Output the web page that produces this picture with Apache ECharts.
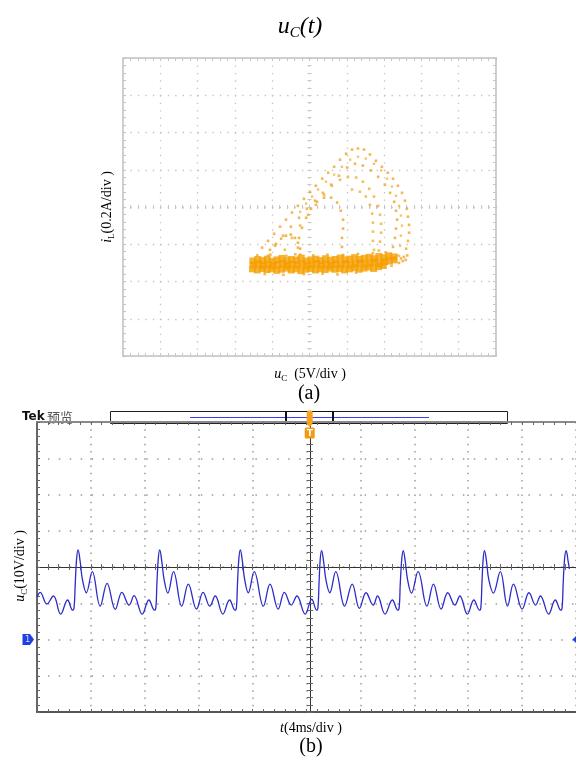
<!DOCTYPE html>
<html><head><meta charset="utf-8">
<script src="https://cdn.jsdelivr.net/npm/echarts@6.0.0/dist/echarts.min.js"></script>
<style>html,body{margin:0;padding:0;background:#fff}#c{width:576px;height:758px}</style>
</head><body><div id="c"></div>
<script>
// ---------- (a) phase portrait, in divisions (x: 5V/div, y: 0.2A/div) ----------
const bandRow1 = [[-1.52,-1.45],[-1.39,-1.41],[-1.26,-1.44],[-1.13,-1.40],[-1.00,-1.46],[-0.87,-1.42],[-0.74,-1.38],[-0.61,-1.44],[-0.48,-1.41],[-0.35,-1.43],[-0.22,-1.37],[-0.09,-1.45],[0.04,-1.42],[0.17,-1.40],[0.30,-1.44],[0.43,-1.39],[0.56,-1.43],[0.69,-1.41],[0.82,-1.37],[0.95,-1.42],[1.08,-1.40],[1.21,-1.36],[1.34,-1.41],[1.47,-1.38],[1.60,-1.35],[1.73,-1.39],[1.86,-1.33],[1.99,-1.36],[2.12,-1.31],[2.25,-1.34]];
const bandRow2 = [[-1.50,-1.56],[-1.37,-1.53],[-1.24,-1.57],[-1.11,-1.54],[-0.98,-1.58],[-0.85,-1.55],[-0.72,-1.52],[-0.59,-1.57],[-0.46,-1.54],[-0.33,-1.56],[-0.20,-1.53],[-0.07,-1.58],[0.06,-1.55],[0.19,-1.52],[0.32,-1.56],[0.45,-1.54],[0.58,-1.57],[0.71,-1.53],[0.84,-1.55],[0.97,-1.52],[1.10,-1.56],[1.23,-1.53],[1.36,-1.50],[1.49,-1.54],[1.62,-1.51],[1.75,-1.48],[1.88,-1.52],[2.01,-1.47],[2.14,-1.45],[2.27,-1.42]];
const bandRow3 = [[-1.53,-1.66],[-1.40,-1.69],[-1.27,-1.65],[-1.14,-1.68],[-1.01,-1.66],[-0.88,-1.70],[-0.75,-1.67],[-0.62,-1.64],[-0.49,-1.69],[-0.36,-1.66],[-0.23,-1.71],[-0.10,-1.67],[0.03,-1.65],[0.16,-1.69],[0.29,-1.66],[0.42,-1.68],[0.55,-1.64],[0.68,-1.67],[0.81,-1.65],[0.94,-1.69],[1.07,-1.66],[1.20,-1.63],[1.33,-1.67],[1.46,-1.64],[1.59,-1.61],[1.72,-1.65],[1.85,-1.60],[1.98,-1.57]];
const bandEdge = [[-1.40,-1.30],[-1.05,-1.28],[-0.62,-1.31],[-0.38,-1.27],[0.10,-1.30],[0.48,-1.28],[0.90,-1.29],[1.30,-1.26],[1.70,-1.24],[2.05,-1.22],[2.35,-1.30],[2.45,-1.38],[2.50,-1.45],[2.40,-1.50],[2.20,-1.58],[-1.20,-1.80],[-0.70,-1.82],[-0.15,-1.80],[0.35,-1.79],[0.75,-1.81],[1.25,-1.76],[2.58,-1.42],[2.62,-1.30]];
const arc1 = [[-1.27,-1.09],[-1.11,-0.91],[-0.95,-0.72],[-0.79,-0.53],[-0.63,-0.34],[-0.47,-0.15],[-0.31,0.03],[-0.15,0.22],[0.01,0.41],[0.17,0.57],[0.34,0.76],[0.50,0.92],[0.66,1.08],[0.82,1.27],[0.98,1.43],[1.14,1.54],[1.30,1.57],[1.46,1.54],[1.62,1.41],[1.78,1.24],[1.94,1.08],[2.10,0.92],[2.24,0.76],[2.37,0.57],[2.48,0.38],[2.56,0.17],[2.61,-0.05],[2.64,-0.26],[2.67,-0.48],[2.67,-0.69],[2.64,-0.91],[2.59,-1.12],[2.53,-1.34]];
const arc2 = [[-1.11,-1.31],[-0.92,-1.04],[-0.71,-0.77],[-0.50,-0.53],[-0.28,-0.29],[-0.07,-0.05],[0.15,0.17],[0.36,0.38],[0.58,0.60],[0.79,0.84],[1.01,1.06],[1.22,1.16],[1.43,1.11],[1.65,0.98],[1.84,0.81],[2.02,0.60],[2.16,0.38],[2.27,0.14],[2.32,-0.10],[2.35,-0.34],[2.32,-0.58],[2.29,-0.83],[2.24,-1.07],[2.18,-1.31]];
const arc3 = [[-0.66,-1.15],[-0.47,-0.83],[-0.25,-0.50],[-0.04,-0.21],[0.17,0.06],[0.39,0.33],[0.60,0.57],[0.82,0.73],[1.03,0.81],[1.25,0.79],[1.43,0.68],[1.60,0.49],[1.73,0.28],[1.84,0.03],[1.89,-0.21],[1.92,-0.45],[1.92,-0.69],[1.89,-0.93],[1.86,-1.17]];
const arc4 = [[-0.31,-1.36],[-0.31,-1.09],[-0.28,-0.83],[-0.20,-0.56],[-0.09,-0.29],[0.04,-0.05],[0.20,0.14],[0.39,0.25],[0.58,0.25],[0.74,0.12],[0.84,-0.10],[0.90,-0.34],[0.90,-0.58],[0.87,-0.83],[0.87,-1.07],[0.90,-1.31]];
const arc5 = [[1.14,0.47],[1.35,0.41],[1.51,0.28],[1.62,0.06],[1.68,-0.18],[1.70,-0.42],[1.70,-0.66],[1.70,-0.91],[1.73,-1.15]];
const arc6 = [[-1.06,-1.15],[-0.90,-0.99],[-0.76,-0.85],[-0.63,-0.77],[-0.50,-0.74],[-0.39,-0.83],[-0.31,-0.96],[-0.25,-1.12],[-0.25,-1.28]];
const arc7 = [[-0.25,-0.13],[-0.09,0.09],[0.07,0.28],[0.23,0.47],[0.44,0.68],[0.66,0.87],[0.87,1.08],[1.09,1.27],[1.30,1.35],[1.51,1.30],[1.73,1.16],[1.92,0.98],[2.08,0.76],[2.21,0.55],[2.32,0.30],[2.40,0.03],[2.45,-0.23],[2.48,-0.50],[2.45,-0.77],[2.43,-1.04],[2.40,-1.31]];

// ---------- (b) time waveform: t in ms (4 ms/div), uC in V (10 V/div, ground = 0) ----------
const wave = [
 [0.00,11.7],[0.24,13.0],[0.73,9.8],[1.22,12.0],[1.76,7.0],[2.27,10.9],[2.64,8.1],
 [2.75,8.8],[2.84,15.5],[2.94,22.3],[3.05,24.7],[3.20,21.6],[3.37,16.6],[3.66,12.9],[4.10,18.7],[4.69,9.2],[5.20,15.5],[5.81,8.3],[6.30,13.0],[6.84,9.5],[7.20,12.1],[7.81,7.0],[8.30,10.9],[8.72,8.1],
 [8.82,8.8],[8.90,15.5],[9.00,22.3],[9.11,24.7],[9.26,21.6],[9.43,16.6],[9.71,12.8],[10.13,18.7],[10.74,9.2],[11.23,15.3],[11.84,8.4],[12.33,13.0],[12.82,9.2],[13.23,12.0],[13.79,7.0],[14.29,10.9],[14.70,8.1],
 [14.80,8.8],[14.88,15.5],[14.98,22.3],[15.09,24.7],[15.24,21.6],[15.41,16.6],[15.68,12.9],[16.12,18.7],[16.80,9.2],[17.29,15.3],[17.90,8.4],[18.36,13.0],[18.87,9.5],[19.29,12.0],[19.90,7.0],[20.39,11.1],[20.75,8.1],
 [20.85,8.8],[20.93,15.5],[21.02,22.2],[21.12,24.5],[21.27,21.5],[21.44,16.5],[21.73,12.9],[22.17,18.7],[22.83,9.2],[23.39,15.3],[23.93,8.6],[24.42,12.9],[24.95,9.5],[25.27,12.0],[25.83,7.0],[26.37,10.9],[26.78,8.1],
 [26.88,8.8],[26.96,15.5],[27.07,22.2],[27.18,24.5],[27.33,21.5],[27.50,16.5],[27.79,12.8],[28.28,18.7],[28.94,9.2],[29.42,15.3],[29.99,8.4],[30.48,12.9],[31.01,9.5],[31.38,12.0],[31.94,7.0],[32.42,10.9],[32.84,8.1],
 [32.94,8.8],[33.02,15.5],[33.11,22.2],[33.21,24.5],[33.36,21.5],[33.53,16.5],[33.87,12.8],[34.38,18.7],[34.92,9.2],[35.36,15.3],[36.01,8.4],[36.51,12.9],[37.00,9.5],[37.36,12.0],[37.97,7.0],[38.46,10.9],[38.87,8.1],
 [38.97,8.8],[39.05,15.5],[39.15,22.2],[39.27,24.5],[39.42,21.5],[39.51,19.5]
];

// axis ranges [min, max, interval]
const xRangeA = [-5, 5, 1], yRangeA = [-4, 4, 1];
const xRangeB = [0, 40, 4], yRangeB = [-20, 60, 10];

const G0 = {left:123, top:58, width:373, height:298};
const G1 = {left:37, top:422, width:546, height:290};

function ax(gi, pos, r, o) {
  return {
    type:'value', gridIndex:gi, position:pos, min:r[0], max:r[1], interval:r[2],
    offset:o.offset||0, silent:true,
    axisLabel:{show:false},
    axisLine:{show:!!o.line, onZero:false, lineStyle:o.line||{}},
    axisTick:{show:!!o.tick, inside:o.inside!==false, length:o.tl||3, lineStyle:o.tick||{}},
    minorTick:{show:!!o.tick, splitNumber:5, length:o.tl||3, lineStyle:o.tick||{}},
    splitLine:{show:!!o.split, lineStyle:o.split||{}}
  };
}
const tA = {color:'#c6c6c6', width:1};
const lA = {color:'#cfcfcf', width:2};
const tB = {color:'#666', width:1};
const xAxes = [
  ax(0,'bottom',xRangeA,{line:lA,tick:tA,split:{color:'#c2c2c2',width:1.3,type:[1.3,6.15]}}),
  ax(0,'top',xRangeA,{line:lA,tick:tA}),
  ax(0,'bottom',xRangeA,{offset:-G0.height/2,tick:tA,tl:2}),
  ax(0,'bottom',xRangeA,{offset:-G0.height/2,tick:tA,tl:2,inside:false}),
  ax(1,'bottom',xRangeB,{line:{color:'#555',width:2},tick:tB,split:{color:'#9a9a9a',width:1.5,type:[1.5,5.75]}}),
  ax(1,'top',xRangeB,{line:{color:'#8a8a8a',width:2},tick:tB}),
  ax(1,'bottom',xRangeB,{offset:-G1.height/2,line:{color:'#333',width:1},tick:tB,tl:3}),
  ax(1,'bottom',xRangeB,{offset:-G1.height/2,tick:tB,tl:3,inside:false})
];
const yAxes = [
  ax(0,'left',yRangeA,{line:lA,tick:tA,split:{color:'#c2c2c2',width:1.3,type:[1.3,6.16]}}),
  ax(0,'right',yRangeA,{line:lA,tick:tA}),
  ax(0,'left',yRangeA,{offset:-G0.width/2,tick:tA,tl:2}),
  ax(0,'left',yRangeA,{offset:-G0.width/2,tick:tA,tl:2,inside:false}),
  ax(1,'left',yRangeB,{line:{color:'#666',width:2},tick:tB,split:{color:'#9a9a9a',width:1.5,type:[1.5,9.42]}}),
  ax(1,'right',yRangeB,{}),
  ax(1,'left',yRangeB,{offset:-G1.width/2,line:{color:'#333',width:1},tick:tB,tl:3}),
  ax(1,'left',yRangeB,{offset:-G1.width/2,tick:tB,tl:3,inside:false})
];

function dots(data, color, size) {
  return {type:'scatter', xAxisIndex:0, yAxisIndex:0, data:data, symbol:'rect', symbolSize:size,
    itemStyle:{color:color}, silent:true, animation:false};
}
const serif = 'Liberation Serif';
function lab(id, x, y, rich, text, rot) {
  return {id:id, type:'text', x:x, y:y, rotation:rot||0, silent:true, z:10,
    style:{text:text, textAlign:'center', textVerticalAlign:'middle', rich:rich, fontFamily:serif, fontSize:14, fill:'#000'}};
}
function richSet(size, sub) {
  return {
    i:{fontFamily:serif, fontStyle:'italic', fontSize:size, lineHeight:size+4, fill:'#000', color:'#000'},
    n:{fontFamily:serif, fontSize:size, lineHeight:size+4, fill:'#000', color:'#000'},
    s:{fontFamily:serif, fontStyle:sub||'normal', fontSize:Math.round(size*0.62), lineHeight:Math.round(size*0.55), verticalAlign:'bottom', fill:'#000', color:'#000'}
  };
}

const chart = echarts.init(document.getElementById('c'), null, {renderer:'canvas'});
chart.setOption({
  animation:false,
  backgroundColor:'#fff',
  grid:[Object.assign({containLabel:false}, G0), Object.assign({containLabel:false}, G1)],
  xAxis:xAxes, yAxis:yAxes,
  series:[
    dots(bandRow1,'#f5a000',7), dots(bandRow2,'#f59c00',7), dots(bandRow3,'#f5a000',7),
    dots(bandEdge,'#f4a620',2.6),
    dots(arc1,'#f1a52a',2.6), dots(arc2,'#f0a230',2.6), dots(arc3,'#f2ac2c',2.6),
    dots(arc4,'#efa226',2.6), dots(arc5,'#f3b038',2.6), dots(arc6,'#f0a020',2.6), dots(arc7,'#f4b840',2.4),
    {type:'line', xAxisIndex:4, yAxisIndex:4, data:wave, smooth:0.4, showSymbol:false, symbol:'none',
     lineStyle:{color:'#2b2bc8', width:1.3}, silent:true, animation:false, z:5}
  ]
});
// ground marker "1" placed at uC = 0 through the axis scale
const gp = chart.convertToPixel({xAxisIndex:4, yAxisIndex:4}, [0, 0]);
const gy = gp[1], gx = gp[0];
chart.setOption({
  graphic:[
    lab('t0', 300, 27, richSet(24,'italic'), '{i|u}{s|C}{i|(t)}'),
    lab('t1', 107, 207, richSet(14,'normal'), '{i|i}{s|L}{n|(0.2A/div )}', Math.PI/2),
    lab('t2', 310, 374, richSet(14,'normal'), '{i|u}{s|C}{n|  (5V/div )}'),
    lab('t3', 309, 394, richSet(20), '{n|(a)}'),
    lab('t4', 20, 566, richSet(14,'normal'), '{i|u}{s|C}{n|(10V/div )}', Math.PI/2),
    lab('t5', 311, 728, richSet(14), '{i|t}{n|(4ms/div )}'),
    lab('t6', 311, 747, richSet(20), '{n|(b)}'),
    {id:'k1', type:'text', x:22, y:417, silent:true, style:{text:'Tek', fontFamily:'DejaVu Sans', fontWeight:'bold', fontSize:12, fill:'#111', textVerticalAlign:'middle'}},
    {id:'k2', type:'text', x:47, y:417, silent:true, style:{text:'预览', fontFamily:'Noto Sans CJK SC', fontSize:13, fill:'#555', textVerticalAlign:'middle'}},
    {id:'b1', type:'rect', silent:true, shape:{x:110.5, y:411.5, width:397, height:12}, style:{fill:'#fff', stroke:'#222', lineWidth:1}},
    {id:'b2', type:'line', silent:true, shape:{x1:190, y1:417.5, x2:429, y2:417.5}, style:{stroke:'#3c3cff', lineWidth:1.2}},
    {id:'b3', type:'rect', silent:true, shape:{x:286, y:411.5, width:47, height:12}, style:{fill:'none', stroke:'#111', lineWidth:1.2}},
    {id:'b4', type:'line', silent:true, shape:{x1:286, y1:411, x2:286, y2:424}, style:{stroke:'#111', lineWidth:2}},
    {id:'b5', type:'line', silent:true, shape:{x1:333, y1:411, x2:333, y2:424}, style:{stroke:'#111', lineWidth:2}},
    {id:'o1', type:'rect', silent:true, z:11, shape:{x:306.7, y:410.5, width:6, height:14, r:2}, style:{fill:'#f7a21b'}},
    {id:'o2', type:'polygon', silent:true, z:11, shape:{points:[[306.7,424],[312.7,424],[309.7,427]]}, style:{fill:'#f7a21b'}},
    {id:'o3', type:'rect', silent:true, z:11, shape:{x:304.7, y:427.5, width:10, height:11, r:1.5}, style:{fill:'#f29b0e'}},
    {id:'o4', type:'text', silent:true, z:12, x:309.7, y:433.5, style:{text:'T', fontFamily:'DejaVu Sans', fontWeight:'bold', fontSize:9, fill:'#fff', textAlign:'center', textVerticalAlign:'middle'}},
    {id:'m1', type:'polygon', silent:true, z:12, shape:{points:[[gx-14.5,gy-5.5],[gx-7,gy-5.5],[gx-3,gy],[gx-7,gy+5.5],[gx-14.5,gy+5.5]]}, style:{fill:'#1f3fe0'}},
    {id:'m2', type:'text', silent:true, z:13, x:gx-9.5, y:gy, style:{text:'1', fontFamily:'DejaVu Sans', fontSize:9, fill:'#c8d0ff', textAlign:'center', textVerticalAlign:'middle'}},
    {id:'m3', type:'polygon', silent:true, z:12, shape:{points:[[576,gy-3.5],[572.5,gy],[576,gy+3.5]]}, style:{fill:'#2040e0'}}
  ]
});
</script></body></html>
